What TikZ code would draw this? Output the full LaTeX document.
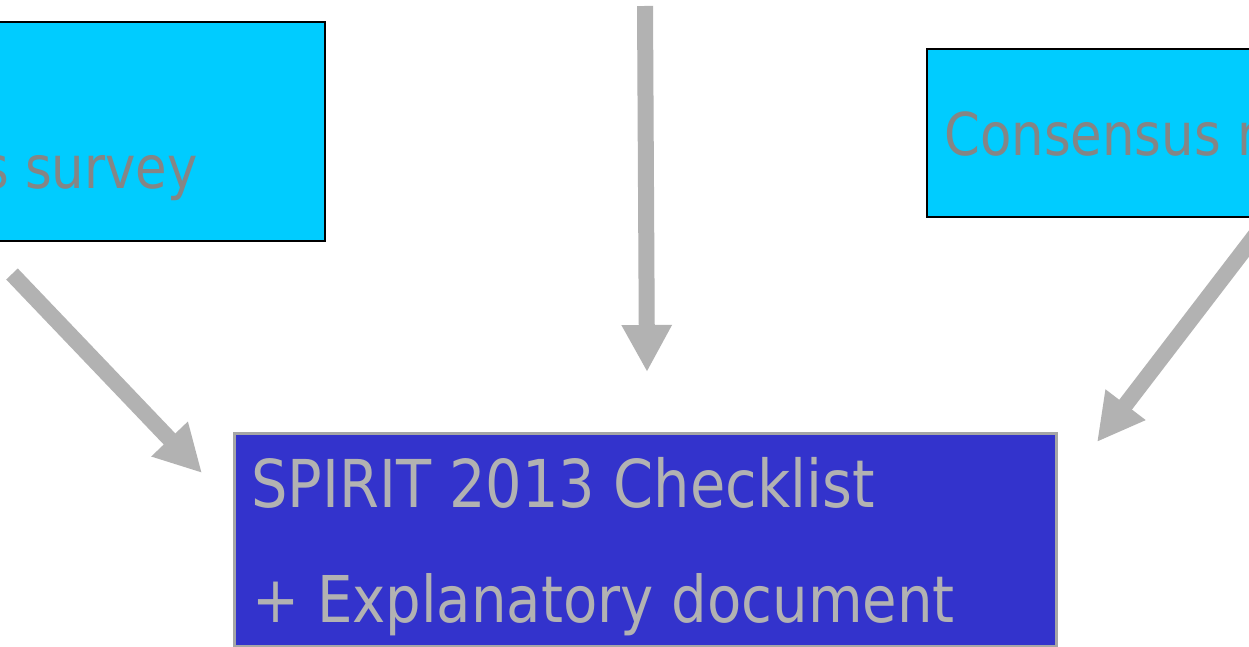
\documentclass[tikz,border=0pt]{standalone}
\usepackage{fontspec}
\setmainfont{DejaVu Sans}[FakeStretch=0.87]
\usetikzlibrary{arrows.meta}

\definecolor{skyfill}{HTML}{00CCFF}
\definecolor{deepfill}{HTML}{3333CC}
\definecolor{labelgray}{HTML}{858585}
\definecolor{palegray}{HTML}{B2B2B2}
\definecolor{rimgray}{HTML}{A6A6A6}

\tikzset{
  sourcebox/.style={draw=black, line width=2pt, fill=skyfill, inner sep=0pt},
  resultbox/.style={draw=rimgray, line width=3pt, fill=deepfill, inner sep=0pt},
  sourcetext/.style={text=labelgray, font=\fontsize{59}{71}\selectfont, inner sep=0pt},
  resulttext/.style={text=palegray, inner sep=0pt},
  flow/.style={draw=palegray, line width=16pt,
    -{Triangle[width=47pt,length=47pt]}},
}

\begin{document}
\begin{tikzpicture}[x=1pt, y=-1pt]
  \useasboundingbox (0,0) rectangle (1249,647);
  \clip (0,0) rectangle (1249,647);
  \fill[white] (0,0) rectangle (1249,647);

  % input boxes (they run past the page edges)
  \node[sourcebox, minimum width=645pt, minimum height=219pt] (survey) at (2.5,131.5) {};
  \node[sourcetext, anchor=base east] (surveytext) at (198,189) {s survey};

  \node[sourcebox, minimum width=640pt, minimum height=168pt] (meeting) at (1247,133) {};
  \node[sourcetext, anchor=base west] (meetingtext) at (944,156) {Consensus m};

  % output box
  \node[resultbox, minimum width=822pt, minimum height=213pt] (checklist) at (645,539.5) {};
  \node[resulttext, font=\fontsize{66}{79}\selectfont, anchor=base west] (line1) at (251,507) {SPIRIT 2013 Checklist};
  \node[resulttext, font=\fontsize{64.5}{77}\selectfont, anchor=base west] (line2) at (252,622) {+ Explanatory document};

  % arrow ends
  \coordinate (lefttail) at (12,274);
  \coordinate (lefttip) at (202,473);
  \coordinate (midtail) at (645,6);
  \coordinate (midtip) at (647,372);
  \coordinate (righttail) at (1290,190);
  \coordinate (righttip) at (1097,442);

  \draw[flow] (lefttail) -- (lefttip);
  \draw[flow] (midtail) -- (midtip);
  \draw[flow] (righttail) -- (righttip);
\end{tikzpicture}
\end{document}
